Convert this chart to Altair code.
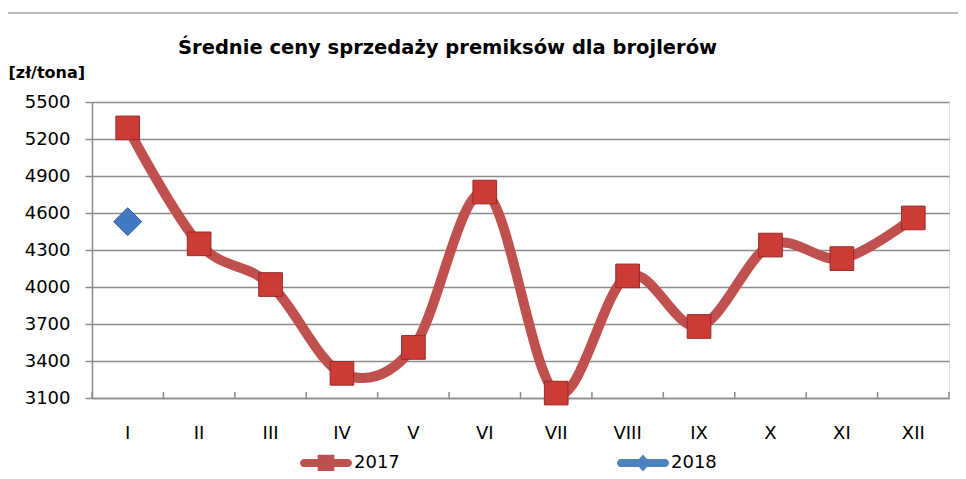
import altair as alt
import pandas as pd

months = ["I", "II", "III", "IV", "V", "VI", "VII", "VIII", "IX", "X", "XI", "XII"]
v2017 = [5290, 4350, 4020, 3300, 3510, 4770, 3140, 4090, 3680, 4340, 4230, 4560]
v2018 = [4530, None, None, None, None, None, None, None, None, None, None, None]
series_names = ["2017", "2018"]
y_ticks = [3100, 3400, 3700, 4000, 4300, 4600, 4900, 5200, 5500]

rows = []
for m, a, b in zip(months, v2017, v2018):
    rows.append({"month": m, "value": a, "series": "2017"})
    if b is not None:
        rows.append({"month": m, "value": b, "series": "2018"})
df = pd.DataFrame(rows)
df_months = pd.DataFrame({"month": months})
df_last = pd.DataFrame({"month": [months[-1]]})

FONT = "DejaVu Sans"
GRID = "#8c8c8c"
W, H = 857, 296

X_AXIS = alt.Axis(labelAngle=0, ticks=False, labelPadding=26, labelFontSize=18,
                  labelFont=FONT, labelColor="#000000", domainColor=GRID,
                  domainWidth=1.5, grid=False)
Y_AXIS = alt.Axis(values=y_ticks, format="d", labelFontSize=18, labelFont=FONT, labelColor="#000000",
                  tickSize=7, tickColor=GRID, tickWidth=1.5, labelPadding=15, domainColor=GRID,
                  domainWidth=1.5, gridColor=GRID, gridWidth=1.5,
                  titleAngle=0, titleX=-84, titleY=-30, titleAlign="left",
                  titleBaseline="middle", titleFont=FONT, titleFontSize=16,
                  titleFontWeight="bold", titleColor="#000000")
X_SCALE = alt.Scale(type="band", paddingInner=0, paddingOuter=0)
Y_SCALE = alt.Scale(domain=[3100, 5500], nice=False, zero=False)


def mkx(bp=None):
    if bp is None:
        return alt.X("month:N", sort=months, title=None, scale=X_SCALE, axis=X_AXIS)
    return alt.X("month:N", sort=months, title=None, scale=X_SCALE, axis=X_AXIS, bandPosition=bp)


def mky():
    return alt.Y("value:Q", title="[zł/tona]", scale=Y_SCALE, axis=Y_AXIS)


base = alt.Chart(df)

line = base.transform_filter(alt.datum.series == "2017").mark_line(
    interpolate="cardinal", strokeWidth=10, color="#C0504D", strokeCap="round"
).encode(x=mkx(), y=mky())

pts17 = base.transform_filter(alt.datum.series == "2017").mark_point(
    shape="square", filled=True, size=560, fill="#CD3B37", stroke="#9A2A27",
    strokeWidth=1, opacity=1
).encode(x=mkx(), y=mky())

pts18 = base.transform_filter(alt.datum.series == "2018").mark_point(
    shape="diamond", filled=True, size=780, fill="#4279C4", stroke="#2E5C9A",
    strokeWidth=1, opacity=1
).encode(x=mkx(), y=mky())

leg_line_sq = ("M-0.846,-0.154H0.846A0.154,0.154 0 0 1 0.846,0.154H-0.846"
               "A0.154,0.154 0 0 1 -0.846,-0.154Z M-0.32,-0.32H0.32V0.32H-0.32Z")
leg_line_di = ("M-0.846,-0.154H0.846A0.154,0.154 0 0 1 0.846,0.154H-0.846"
               "A0.154,0.154 0 0 1 -0.846,-0.154Z M0,-0.33L0.29,0L0,0.33L-0.29,0Z")

LEG = alt.Legend(title=None, orient="none", legendX=208, legendY=335,
                 direction="horizontal", labelFont=FONT, labelFontSize=18,
                 labelColor="#000000", labelOffset=2, columnPadding=217,
                 symbolOpacity=1, symbolSize=2704, symbolStrokeWidth=0)

legend_layer = base.mark_point(filled=True, opacity=0, size=2704).encode(
    x=mkx(), y=mky(),
    color=alt.Color("series:N", scale=alt.Scale(domain=series_names, range=["#C0504D", "#4F81BD"]),
                    legend=LEG),
    shape=alt.Shape("series:N", scale=alt.Scale(domain=series_names, range=[leg_line_sq, leg_line_di]),
                    legend=LEG),
)

ticks = alt.Chart(df_months).mark_rule(color=GRID, strokeWidth=1.5).encode(
    x=mkx(0), y=alt.value(H), y2=alt.value(H - 6),
)
tick_last = alt.Chart(df_last).mark_rule(color=GRID, strokeWidth=1.5).encode(
    x=mkx(1), y=alt.value(H), y2=alt.value(H - 6),
)

border_top = alt.Chart(df_last).mark_rule(color="#A6A6A6", strokeWidth=1.5).encode(
    x=alt.value(-92), x2=alt.value(874), y=alt.value(-89)
)
border_left = alt.Chart(df_last).mark_rule(color="#A6A6A6", strokeWidth=1.5).encode(
    x=alt.value(-90), y=alt.value(-89), y2=alt.value(377)
)

chart = alt.layer(
    line, ticks, tick_last, pts17, pts18, legend_layer, border_top, border_left
).properties(
    width=W, height=H,
    autosize=alt.AutoSizeParams(type="none"),
    padding={"left": 84, "top": 94, "right": 9, "bottom": 73},
    title=alt.TitleParams(
        "Średnie ceny sprzedaży premiksów dla brojlerów",
        anchor="start", frame="group", dx=86, offset=-46,
        font=FONT, fontSize=19.5, fontWeight="bold", color="#000000",
    ),
).configure_view(strokeWidth=0, stroke="transparent").configure(background="#ffffff")

chart.save("out.html", embed_options={"renderer": "svg", "actions": False})
